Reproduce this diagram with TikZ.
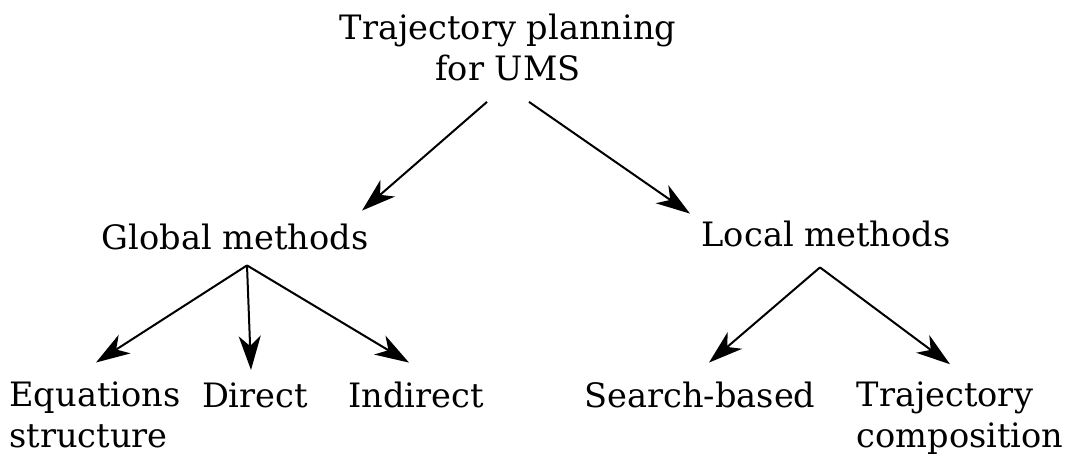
\documentclass[tikz,border=0pt]{standalone}
\usepackage{fontspec}
\setmainfont{DejaVu Serif}
\usetikzlibrary{arrows.meta,calc}

\begin{document}
\begin{tikzpicture}[x=0.5pt,y=-0.5pt]
\tikzstyle{method} = [inner sep=2pt,font=\fontsize{16.8}{20.5}\selectfont]
\tikzstyle{link} = [-{Stealth[length=17pt,width=11pt,inset=5pt]},line width=1pt]

\useasboundingbox (0,0) rectangle (1066,454);

\node[method,align=center] (ums) at (508,47) {Trajectory planning\\for UMS};

\node[method] (global) at (235,237) {Global methods};
\node[method] (local) at (826,234) {Local methods};

\node[method,align=left] (eqs) at (95,415) {Equations\\structure};
\node[method] (direct) at (255,395) {Direct};
\node[method] (indirect) at (416,395) {Indirect};
\node[method] (search) at (700,395) {Search-based};
\node[method,align=left] (comp) at (960,418) {Trajectory\\composition};

\draw[link] ($(ums.south)+(-21,17)$) -- ($(global.north)+(127,-9)$);
\draw[link] ($(ums.south)+(21,17)$) -- ($(local.north)+(-136,-3)$);

\draw[link] ($(global.south)+(12,11)$) -- ($(eqs.north)+(1,-15)$);
\draw[link] ($(global.south)+(12,11)$) -- ($(direct.north)+(-4,-8)$);
\draw[link] ($(global.south)+(12,11)$) -- ($(indirect.north)+(-7,-15)$);

\draw[link] ($(local.south)+(-6,16)$) -- ($(search.north)+(9,-15)$);
\draw[link] ($(local.south)+(-6,16)$) -- ($(comp.north)+(-10,-13)$);

\end{tikzpicture}
\end{document}
